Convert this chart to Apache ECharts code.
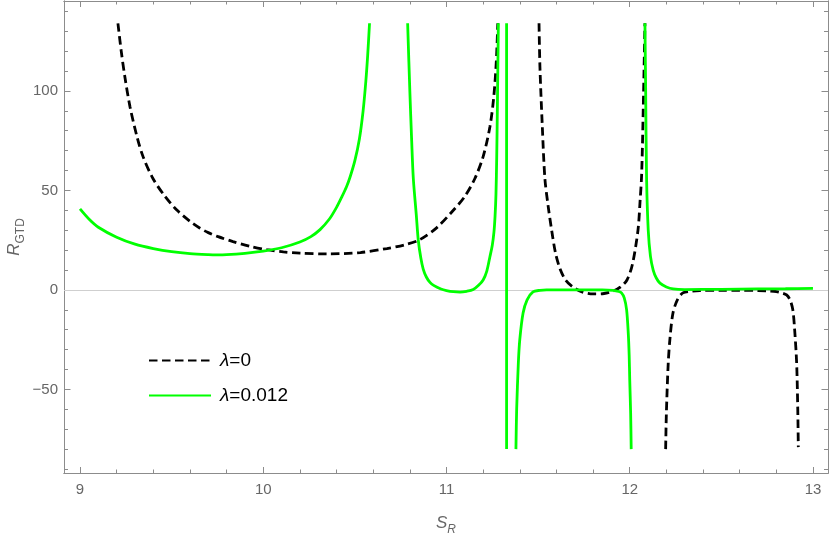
<!DOCTYPE html>
<html>
<head>
<meta charset="utf-8">
<script src="https://cdn.jsdelivr.net/npm/echarts@6/dist/echarts.min.js"></script>
<style>
html,body{margin:0;padding:0;background:#fff;}
#chart{width:830px;height:533px;}
</style>
</head>
<body>
<div id="chart"></div>
<script>
// ---- data ----
const seriesNames = ['λ=0', 'λ=0.012'];
const xTickLabels = [9, 10, 11, 12, 13];
const yTickLabels = [-50, 0, 50, 100];
const xMinorTicks = [9.2,9.4,9.6,9.8,10.2,10.4,10.6,10.8,11.2,11.4,11.6,11.8,12.2,12.4,12.6,12.8];
const yMinorTicks = [-90,-80,-70,-60,-40,-30,-20,-10,10,20,30,40,60,70,80,90,110,120,130,140];

// λ=0 branches
const black1 = [[9.207,134],[9.225,120],[9.245,107],[9.273,92],[9.311,77],[9.344,67],[9.398,56],[9.46,47.5],[9.53,40],[9.60,34.5],[9.655,31],[9.70,28.8],[9.75,26.9],[9.835,24.3],[9.93,21.9],[10.02,20.2],[10.11,19.1],[10.20,18.5],[10.35,18.1],[10.53,18.8],[10.675,20.8],[10.77,22.6],[10.855,25.3],[10.946,31.2],[11.035,39.8],[11.10,47],[11.155,56],[11.20,67],[11.237,82],[11.258,97],[11.272,115],[11.28,134]];
const black2 = [[11.505,134],[11.51,112],[11.523,82],[11.537,56],[11.555,42],[11.574,30],[11.595,18.5],[11.62,10.5],[11.65,5],[11.69,1.5],[11.74,-1],[11.80,-2],[11.86,-1.8],[11.91,-0.6],[11.95,1.5],[11.985,5],[12.015,13],[12.045,30],[12.056,44],[12.065,58],[12.074,92],[12.083,134]];
const black3 = [[12.196,-80],[12.20,-62],[12.21,-37],[12.22,-24],[12.236,-11.6],[12.26,-5],[12.29,-1.5],[12.34,-0.6],[12.383,-0.3],[12.5,-0.2],[12.6,-0.2],[12.7,-0.3],[12.76,-0.5],[12.80,-0.8],[12.83,-1.5],[12.856,-2.5],[12.875,-5],[12.89,-10],[12.90,-20],[12.911,-37],[12.917,-60],[12.92,-79]];

// λ=0.012 branches
const green1 = [[9.0,40.7],[9.05,35.5],[9.1,31.5],[9.2,26.5],[9.3,23],[9.4,20.8],[9.5,19.2],[9.6,18.2],[9.7,17.7],[9.75,17.6],[9.8,17.7],[9.9,18.4],[10.0,19.5],[10.1,21.2],[10.2,24.1],[10.26,26.8],[10.31,30.3],[10.36,35.5],[10.40,41.5],[10.43,47],[10.455,52],[10.473,56.5],[10.50,65],[10.525,76],[10.545,90],[10.56,105],[10.57,118],[10.58,134]];
const green2 = [[10.788,134],[10.80,100],[10.81,75],[10.819,56],[10.835,38],[10.846,25],[10.86,16],[10.873,10.5],[10.89,6.5],[10.91,3.8],[10.93,2.3],[10.97,0.5],[11.0,-0.3],[11.037,-0.9],[11.074,-1.1],[11.11,-0.7],[11.146,0.2],[11.175,2.3],[11.20,5],[11.22,9.5],[11.237,16.7],[11.25,22.5],[11.259,29],[11.265,37],[11.27,48],[11.274,66],[11.278,94],[11.283,134]];
const green3 = [[11.328,134],[11.328,-80]];
const green4 = [[11.379,-80],[11.383,-60],[11.392,-37],[11.40,-25],[11.418,-11.6],[11.44,-5],[11.472,-1],[11.51,-0.2],[11.546,0],[11.7,0],[11.85,0],[11.91,-0.2],[11.94,-0.8],[11.955,-1.5],[11.97,-4],[11.983,-10],[11.992,-21.7],[11.997,-33],[12.0,-45],[12.005,-62],[12.008,-80]];
const green5 = [[12.083,134],[12.087,100],[12.092,56],[12.101,30],[12.113,17],[12.128,10],[12.145,6],[12.165,3.4],[12.2,1.5],[12.237,0.5],[12.3,0.2],[12.5,0.3],[12.7,0.5],[12.85,0.6],[13.0,0.8]];

const blackBranches = [black1, black2, black3];
const greenBranches = [green1, green2, green3, green4, green5];

// ---- chart ----
const X_MIN = 8.9127, X_MAX = 13.082, Y_MIN = -92, Y_MAX = 145.2;
const FRAME = '#8c8c8c', LABEL = '#666666';
const FONT = '"Liberation Sans", Arial, sans-serif';

function axisCommon(extra) {
  return Object.assign({
    type: 'value', splitLine: {show: false},
    axisLine: {show: true, onZero: false, lineStyle: {color: FRAME, width: 1}},
  }, extra);
}

const xAxes = [
  axisCommon({position: 'bottom', min: X_MIN, max: X_MAX,
    axisTick: {show: true, inside: true, length: 6, customValues: xTickLabels, lineStyle: {color: FRAME}},
    axisLabel: {show: true, customValues: xTickLabels, color: LABEL, fontSize: 15, fontFamily: FONT, margin: 9},
    name: '{s|S}{r|R}', nameLocation: 'middle', nameGap: 37, nameMoveOverlap: false,
    nameTextStyle: {color: LABEL, fontFamily: FONT, rich: {
      s: {fontSize: 17, fontStyle: 'italic', color: LABEL, fontFamily: FONT, lineHeight: 26, verticalAlign: 'middle'},
      r: {fontSize: 12, fontStyle: 'italic', color: LABEL, fontFamily: FONT, lineHeight: 26, verticalAlign: 'bottom'}}}
  }),
  axisCommon({position: 'bottom', min: X_MIN, max: X_MAX,
    axisTick: {show: true, inside: true, length: 3.5, customValues: xMinorTicks, lineStyle: {color: FRAME}},
    axisLabel: {show: false}}),
  axisCommon({position: 'top', min: X_MIN, max: X_MAX,
    axisTick: {show: true, inside: true, length: 6, customValues: xTickLabels, lineStyle: {color: FRAME}},
    axisLabel: {show: false}}),
  axisCommon({position: 'top', min: X_MIN, max: X_MAX,
    axisTick: {show: true, inside: true, length: 3.5, customValues: xMinorTicks, lineStyle: {color: FRAME}},
    axisLabel: {show: false}})
];
const yAxes = [
  axisCommon({position: 'left', min: Y_MIN, max: Y_MAX,
    axisTick: {show: true, inside: true, length: 6.5, customValues: yTickLabels, lineStyle: {color: FRAME}},
    axisLabel: {show: true, customValues: yTickLabels, color: LABEL, fontSize: 15, fontFamily: FONT, margin: 6,
      formatter: v => (v < 0 ? '\u2212' + Math.abs(v) : String(v))},
    name: '{r|R}{s|GTD}', nameLocation: 'middle', nameGap: 37, nameRotate: 90, nameMoveOverlap: false,
    nameTextStyle: {color: LABEL, fontFamily: FONT, rich: {
      r: {fontSize: 17, fontStyle: 'italic', color: LABEL, fontFamily: FONT, lineHeight: 26, verticalAlign: 'middle'},
      s: {fontSize: 12, color: LABEL, fontFamily: FONT, lineHeight: 26, verticalAlign: 'bottom'}}}
  }),
  axisCommon({position: 'left', min: Y_MIN, max: Y_MAX,
    axisTick: {show: true, inside: true, length: 4, customValues: yMinorTicks, lineStyle: {color: FRAME}},
    axisLabel: {show: false}}),
  axisCommon({position: 'right', min: Y_MIN, max: Y_MAX,
    axisTick: {show: true, inside: true, length: 6.5, customValues: yTickLabels, lineStyle: {color: FRAME}},
    axisLabel: {show: false}}),
  axisCommon({position: 'right', min: Y_MIN, max: Y_MAX,
    axisTick: {show: true, inside: true, length: 4, customValues: yMinorTicks, lineStyle: {color: FRAME}},
    axisLabel: {show: false}})
];

const series = [];
blackBranches.forEach((b, i) => {
  const s = {
    name: seriesNames[0], type: 'line', data: b, showSymbol: false, symbol: 'none',
    smooth: 0.3, clip: true, z: 3,
    lineStyle: {color: '#000000', width: 2.8, type: [8.5, 4.5]},
    itemStyle: {color: '#000000'}
  };
  if (i === 0) {
    s.markLine = {silent: true, symbol: ['none', 'none'], label: {show: false}, z: 1,
      lineStyle: {color: '#cfcfcf', width: 1, type: 'solid'}, data: [{yAxis: 0}]};
  }
  series.push(s);
});
greenBranches.forEach(b => {
  series.push({
    name: seriesNames[1], type: 'line', data: b, showSymbol: false, symbol: 'none',
    smooth: b.length > 2 ? 0.3 : false, clip: true, z: 4,
    lineStyle: {color: '#00ff00', width: 2.8, type: 'solid'},
    itemStyle: {color: '#00ff00'}
  });
});

const chart = echarts.init(document.getElementById('chart'), null, {renderer: 'canvas'});
chart.setOption({
  animation: false,
  backgroundColor: '#ffffff',
  grid: {left: 64, right: 2, top: 1, bottom: 60, containLabel: false, outerBoundsMode: 'none'},
  xAxis: xAxes,
  yAxis: yAxes,
  legend: {
    data: seriesNames, orient: 'vertical', left: 143, top: 346,
    itemWidth: 62, itemHeight: 20, itemGap: 16,
    itemStyle: {opacity: 0},
    formatter: n => '{l|λ}{t|' + n.slice(1) + '}',
    textStyle: {color: '#000', fontSize: 19, fontFamily: FONT, padding: [0, 0, 0, 4],
      rich: {l: {fontStyle: 'italic', fontSize: 19, color: '#000', fontFamily: FONT},
             t: {fontSize: 19, color: '#000', fontFamily: FONT}}}
  },
  series: series
});
</script>
</body>
</html>
